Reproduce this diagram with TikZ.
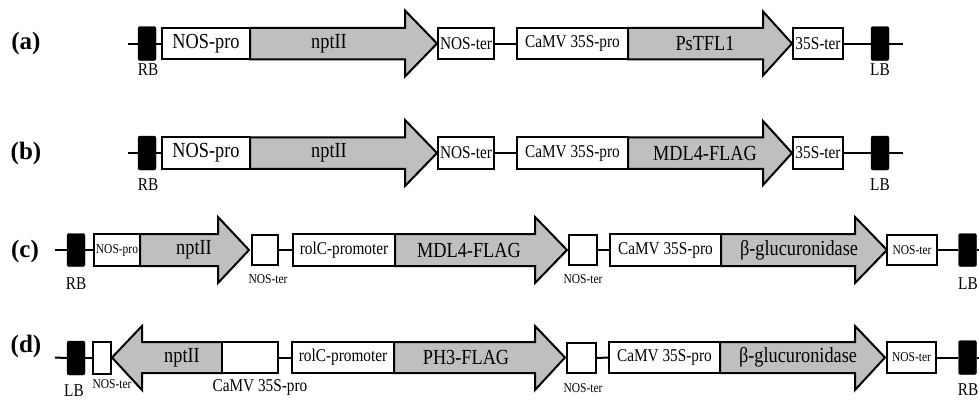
\documentclass[tikz,border=0pt]{standalone}
\usepackage{fontspec}
\setmainfont{Liberation Serif}[FakeStretch=0.85]
\newfontfamily\rowfont{Liberation Serif}
\usepackage{tikz}
\usetikzlibrary{positioning}

\definecolor{genegray}{RGB}{191,191,191}
\tikzset{
  part/.style={draw, line width=2pt, fill=white, inner sep=0pt},
  border/.style={draw, fill=black, rounded corners=2pt, inner sep=0pt, minimum width=18, minimum height=34},
  gene/.style={draw, line width=2pt, fill=genegray},
  backbone/.style={line width=2pt},
  big/.style={font=\fontsize{21.5}{24}\selectfont},
  mid/.style={font=\fontsize{18}{20}\selectfont},
  small/.style={font=\fontsize{13.5}{15}\selectfont},
  rowlabel/.style={font=\rowfont\bfseries\fontsize{25}{28}\selectfont}
}

\begin{document}
\begin{tikzpicture}[x=1pt, y=-1pt]
    \useasboundingbox (0,0) rectangle (979,400);

    % rows (a) and (b)
    \foreach \r/\yc/\gene/\lby in {a/43.5/PsTFL1/70, b/153/MDL4-FLAG/185}{
      \coordinate (\r-start) at (128,\yc);
      \coordinate (\r-end) at (903,\yc);
      \draw[gene] (250,\yc-15.75) -- (405,\yc-15.75) -- (405,\yc-33) -- (437,\yc) -- (405,\yc+33) -- (405,\yc+15.75) -- (250,\yc+15.75) -- cycle;
      \draw[gene] (628,\yc-15.75) -- (763,\yc-15.75) -- (763,\yc-32) -- (792,\yc) -- (763,\yc+32) -- (763,\yc+15.75) -- (628,\yc+15.75) -- cycle;
      \node[border] (\r-rb) at (147,\yc) {};
      \node[part, big, minimum width=88, minimum height=31.5] (\r-pro) at (206,\yc) {NOS-pro};
      \node[big] (\r-npt) at (329,\yc) {nptII};
      \node[part, mid, minimum width=56, minimum height=31.5] (\r-nter) at (466,\yc) {NOS-ter};
      \node[part, mid, minimum width=111, minimum height=31.5] (\r-camv) at (572.5,\yc) {CaMV 35S-pro};
      \node[big] (\r-gene) at (705,\yc) {\gene};
      \node[part, mid, minimum width=50, minimum height=31.5] (\r-ster) at (818,\yc) {35S-ter};
      \node[border] (\r-lb) at (880,\yc) {};
      \node[mid] (\r-rbl) at (148,\lby) {RB};
      \node[mid] (\r-lbl) at (880,\lby) {LB};
      \draw[backbone] (\r-start) -- (\r-rb.west);
      \draw[backbone] (\r-rb.east) -- (\r-pro.west);
      \draw[backbone] (\r-nter.east) -- (\r-camv.west);
      \draw[backbone] (\r-ster.east) -- (\r-lb.west);
      \draw[backbone] (\r-lb.east) -- (\r-end);
    }

    % row (c)
    \coordinate (c-start) at (55,250);
    \coordinate (c-end) at (979,250);
    \draw[gene] (140,234) -- (218,234) -- (218,217) -- (249,250) -- (218,283) -- (218,266) -- (140,266) -- cycle;
    \draw[gene] (395,234) -- (535,234) -- (535,217) -- (567,250) -- (535,283) -- (535,266) -- (395,266) -- cycle;
    \draw[gene] (721,234) -- (855,234) -- (855,217) -- (887,250) -- (855,283) -- (855,266) -- (721,266) -- cycle;
    \node[border, minimum height=33] (c-rb) at (76,250) {};
    \node[part, small, minimum width=46, minimum height=32] (c-pro) at (117,250) {NOS-pro};
    \node[big] (c-npt) at (194,250) {nptII};
    \node[part, minimum width=26, minimum height=30] (c-nter1) at (265,250) {};
    \node[part, mid, minimum width=102, minimum height=32] (c-rolc) at (344,250) {rolC-promoter};
    \node[big] (c-mdl) at (469,250) {MDL4-FLAG};
    \node[part, minimum width=28, minimum height=30] (c-nter2) at (583,250) {};
    \node[part, mid, minimum width=111, minimum height=32] (c-camv) at (665.5,250) {CaMV 35S-pro};
    \node[big] (c-gus) at (799,250) {β-glucuronidase};
    \node[part, small, minimum width=50, minimum height=30] (c-nter3) at (912,250) {NOS-ter};
    \node[border, minimum height=33] (c-lb) at (967.5,250) {};
    \node[mid] (c-rbl) at (76,284) {RB};
    \node[small] (c-nter1l) at (268,279) {NOS-ter};
    \node[small] (c-nter2l) at (583,279) {NOS-ter};
    \node[mid] (c-lbl) at (968,284) {LB};
    \draw[backbone] (c-start) -- (c-rb.west);
    \draw[backbone] (c-rb.east) -- (c-pro.west);
    \draw[backbone] (c-nter1.east) -- (c-rolc.west);
    \draw[backbone] (c-nter2.east) -- (c-camv.west);
    \draw[backbone] (c-nter3.east) -- (c-lb.west);
    \draw[backbone] (c-lb.east) -- (c-end);

    % row (d)
    \coordinate (d-start) at (55,357.5);
    \coordinate (d-end) at (979,357.5);
    \draw[gene] (222,342) -- (142,342) -- (142,326) -- (112,357.5) -- (142,390) -- (142,373) -- (222,373) -- cycle;
    \draw[gene] (394,342) -- (535,342) -- (535,326) -- (565,357.5) -- (535,390) -- (535,373) -- (394,373) -- cycle;
    \draw[gene] (720,342) -- (855,342) -- (855,326) -- (885,357.5) -- (855,390) -- (855,373) -- (720,373) -- cycle;
    \node[border] (d-lb) at (76,358) {};
    \node[part, minimum width=18, minimum height=32] (d-nter1) at (102,358) {};
    \node[big] (d-npt) at (182,357.5) {nptII};
    \node[part, minimum width=56, minimum height=31] (d-camv1) at (250,357.5) {};
    \node[part, mid, minimum width=102, minimum height=31] (d-rolc) at (343,357.5) {rolC-promoter};
    \node[big] (d-ph3) at (466,357.5) {PH3-FLAG};
    \node[part, minimum width=29, minimum height=30] (d-nter2) at (581.5,358) {};
    \node[part, mid, minimum width=111, minimum height=31] (d-camv2) at (664.5,357.5) {CaMV 35S-pro};
    \node[big] (d-gus) at (798,357.5) {β-glucuronidase};
    \node[part, small, minimum width=49, minimum height=31] (d-nter3) at (911.5,357.5) {NOS-ter};
    \node[border] (d-rb) at (967.5,357.5) {};
    \node[mid] (d-lbl) at (74,391) {LB};
    \node[small] (d-nter1l) at (112,384) {NOS-ter};
    \node[mid] (d-camv1l) at (260,387) {CaMV 35S-pro};
    \node[small] (d-nter2l) at (583,388) {NOS-ter};
    \node[mid] (d-rbl) at (968,390) {RB};
    \draw[backbone] (d-start) -- (d-lb.west);
    \draw[backbone] (d-lb.east) -- (d-nter1.west);
    \draw[backbone] (d-camv1.east) -- (d-rolc.west);
    \draw[backbone] (d-nter2.east) -- (d-camv2.west);
    \draw[backbone] (d-nter3.east) -- (d-rb.west);
    \draw[backbone] (d-rb.east) -- (d-end);

    % row labels
    \node[rowlabel] (lab-a) at (26,43) {(a)};
    \node[rowlabel] (lab-b) at (26,153) {(b)};
    \node[rowlabel] (lab-c) at (25,251) {(c)};
    \node[rowlabel] (lab-d) at (26,346) {(d)};
\end{tikzpicture}
\end{document}
